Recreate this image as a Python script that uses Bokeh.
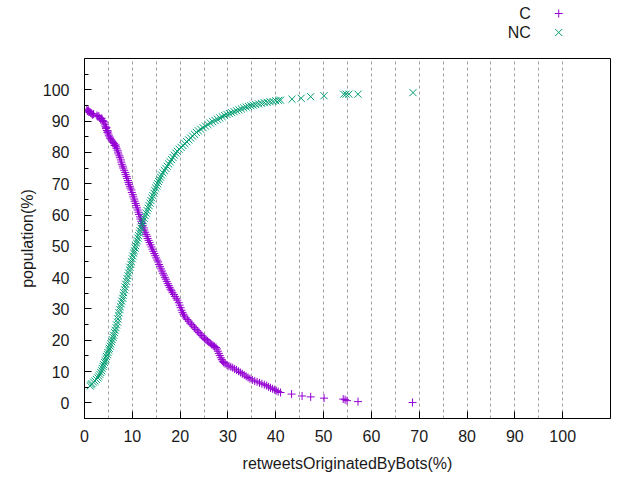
from bokeh.plotting import figure
from bokeh.models import FixedTicker, Range1d
from bokeh.layouts import column
from bokeh.core.properties import value
from bokeh.embed import file_html
from bokeh.resources import INLINE

# ---- data ----
c_x = [0.5, 0.6, 0.8, 0.9, 1.1, 1.3, 1.5, 1.7, 1.9,
       2.6, 2.8, 3.0, 3.2, 3.4, 3.6, 3.8, 4.0, 4.1, 4.3,
       4.4, 4.5, 4.6, 4.7, 4.8, 4.9, 5.0, 5.1, 5.3, 5.4, 5.6, 5.8, 6.0, 6.2, 6.3,
       6.5, 6.6, 6.7, 6.9, 7.0, 7.1, 7.3, 7.4, 7.6, 7.7, 7.8, 8.0, 8.1, 8.3, 8.5,
       8.6, 8.8, 8.9,
       9.1, 9.2, 9.3, 9.5, 9.6, 9.8, 9.9, 10.1, 10.2, 10.4, 10.5, 10.7, 10.8,
       11.0, 11.1,
       11.3, 11.4, 11.6, 11.7, 11.9, 12.0, 12.2, 12.4, 12.5, 12.7, 12.9, 13.1,
       13.2, 13.4, 13.6, 13.8, 14.0, 14.2, 14.4, 14.6, 14.8, 15.0, 15.2,
       15.4, 15.6, 15.8, 16.0, 16.2, 16.4, 16.6, 16.8, 17.0, 17.2, 17.4, 17.6,
       17.8, 18.0, 18.2, 18.4, 18.7, 18.9, 19.2, 19.4, 19.7, 19.9, 20.1,
       20.3, 20.5, 20.7, 20.9, 21.2, 21.5, 21.8, 22.1, 22.4, 22.7, 23.0, 23.3,
       23.6, 23.9, 24.2, 24.5, 24.8,
       25.1, 25.4, 25.7, 26.0, 26.3, 26.6, 26.9, 27.2, 27.5, 27.7, 27.9, 28.1,
       28.3, 28.5, 28.7, 28.9, 29.1, 29.4, 29.8,
       30.2, 30.6, 31.0, 31.4, 31.8, 32.2, 32.6, 33.0, 33.4, 33.8, 34.2, 34.6,
       35.1, 35.6, 36.1, 36.6, 37.1,
       37.6, 38.1, 38.5, 38.9, 39.3, 39.7, 40.1, 40.5, 41.0,
       43.3, 45.5, 47.3, 50.1, 54.1, 54.5, 54.9, 57.2, 68.6]
c_y = [93.8, 93.2, 93.5, 92.9, 93.0, 92.6, 92.4, 92.0, 92.3,
       91.8, 91.4, 91.6, 91.0, 90.6, 90.9, 90.2, 89.9, 89.4, 88.8,
       88.2, 87.6, 87.9, 87.0, 86.4, 86.8, 85.9, 85.3, 84.9, 84.4, 84.0, 83.6,
       83.2, 82.8, 82.2,
       82.4, 81.8, 81.3, 80.7, 80.1, 79.5, 78.9, 78.3, 77.6, 76.9, 76.2, 75.6,
       75.0, 74.3, 73.6, 72.9, 72.3, 71.7,
       71.0, 70.4, 69.8, 69.2, 68.6, 68.0, 67.2, 66.5, 65.8, 65.1, 64.4, 63.7,
       63.0, 62.3, 61.6,
       60.9, 60.2, 59.4, 58.7, 58.0, 57.3, 56.6, 55.9, 55.2, 54.5, 53.8, 53.2,
       52.5, 51.9, 51.2, 50.5, 49.8, 49.1, 48.4, 47.7, 47.0, 46.3, 45.6,
       45.0, 44.2, 43.5, 42.8, 42.1, 41.4, 40.8, 40.1, 39.5, 38.8, 38.1, 37.5,
       36.9, 36.3, 35.8, 35.2, 34.6, 34.0, 33.4, 32.8, 32.0, 31.2, 30.4,
       29.6, 28.9, 28.3, 27.7, 27.1, 26.6, 26.1, 25.5, 25.0, 24.5, 24.0, 23.5,
       23.0, 22.5, 22.0, 21.5, 21.0,
       20.6, 20.2, 19.8, 19.4, 19.0, 18.6, 18.3, 18.0, 17.7, 17.2, 16.5, 15.8,
       15.1, 14.4, 13.8, 13.3, 12.9, 12.5, 12.1,
       11.8, 11.5, 11.2, 10.8, 10.5, 10.1, 9.7, 9.3, 8.9, 8.5, 8.1, 7.7,
       7.3, 7.0, 6.7, 6.4, 6.1,
       5.8, 5.5, 5.1, 4.8, 4.5, 4.2, 3.9, 3.6, 3.3,
       2.8, 2.2, 1.9, 1.5, 1.2, 1.0, 0.7, 0.4, 0.1]

nc_x = [1.2, 1.4, 1.6, 1.9, 2.2, 2.5, 2.8, 3.0, 3.2, 3.4, 3.6, 3.7, 3.9, 4.0,
        4.2, 4.3, 4.5, 4.6, 4.8, 4.9, 5.1, 5.2, 5.4, 5.5, 5.7, 5.8, 6.0, 6.1,
        6.3, 6.4, 6.6, 6.7, 6.9, 7.0, 7.1, 7.2, 7.4, 7.5, 7.7, 7.8, 8.0, 8.1,
        8.2, 8.4, 8.5, 8.6, 8.8, 8.9, 9.1, 9.2, 9.4, 9.5, 9.7, 9.8, 10.0, 10.1,
        10.3, 10.4, 10.6, 10.7, 10.9, 11.0, 11.2, 11.3, 11.5, 11.6, 11.8, 11.9,
        12.1, 12.3, 12.5, 12.7, 12.9, 13.1, 13.3, 13.5, 13.7, 13.9, 14.1, 14.3,
        14.5, 14.7, 14.9, 15.1, 15.3, 15.5, 15.7, 15.9, 16.1, 16.4, 16.7, 17.0,
        17.3, 17.6, 17.9, 18.2, 18.5, 18.8, 19.1, 19.4, 19.8, 20.2, 20.6, 21.0,
        21.4, 21.8, 22.2, 22.6, 23.0, 23.4, 23.8, 24.3, 24.8, 25.3, 25.8, 26.3,
        26.8, 27.3, 27.8, 28.3, 28.8, 29.3, 29.8, 30.3, 30.8, 31.3, 31.8, 32.3,
        32.8, 33.3, 33.8, 34.3, 34.8, 35.3, 35.8, 36.4, 37.0, 37.6, 38.2, 38.8,
        39.4, 40.0, 40.6, 41.0, 43.4, 45.3, 47.3, 50.1, 54.2, 54.7, 55.3, 57.2,
        68.7]
nc_y = [5.4, 5.8, 6.1, 6.6, 7.0, 7.5, 8.0, 8.5, 9.1, 9.7, 10.3, 11.0, 11.6,
        12.2, 12.9, 13.5, 14.1, 14.8, 15.4, 16.1, 16.8, 17.4, 18.1, 18.8, 19.5,
        20.2, 20.9, 21.6, 22.4, 23.2, 24.0, 24.9, 25.8, 26.8, 27.8, 28.8, 29.8,
        30.7, 31.6, 32.5, 33.4, 34.3, 35.2, 36.1, 37.0, 37.9, 38.8, 39.7, 40.6,
        41.5, 42.4, 43.3, 44.2, 45.1, 46.0, 46.9, 47.8, 48.6, 49.4, 50.2, 51.0,
        51.8, 52.6, 53.4, 54.2, 55.0, 55.8, 56.6, 57.4, 58.2, 59.0, 59.8, 60.6,
        61.4, 62.2, 63.0, 63.8, 64.6, 65.4, 66.2, 67.0, 67.8, 68.6, 69.3, 70.0,
        70.7, 71.4, 72.1, 72.8, 73.5, 74.2, 74.9, 75.6, 76.3, 77.0, 77.7, 78.4,
        79.1, 79.8, 80.4, 81.0, 81.6, 82.2, 82.8, 83.4, 84.0, 84.6, 85.2, 85.8,
        86.4, 86.9, 87.4, 87.9, 88.4, 88.9, 89.4, 89.8, 90.2, 90.6, 91.0, 91.4,
        91.8, 92.1, 92.4, 92.7, 93.0, 93.3, 93.6, 93.9, 94.2, 94.5, 94.7, 94.9,
        95.1, 95.3, 95.5, 95.7, 95.9, 96.0, 96.2, 96.3, 96.5, 96.6, 96.7, 97.0,
        97.3, 97.8, 98.1, 98.6, 98.6, 98.6, 98.6, 99.1]

series_names = ["C", "NC"]
x_ticks = [0, 10, 20, 30, 40, 50, 60, 70, 80, 90, 100]
y_ticks = [0, 10, 20, 30, 40, 50, 60, 70, 80, 90, 100]
y_minor = [5, 15, 25, 35, 45, 55, 65, 75, 85, 95, 105]
x_grid = [5, 10, 15, 20, 25, 30, 35, 40, 45, 50, 55, 60, 65, 70, 75, 80, 85,
          90, 95, 100]

FONT = "Liberation Sans"
TEXT_COLOR = "#1a1a1a"
C_COLOR = "#9400d3"
NC_COLOR = "#009e73"
PLUS_SIZE = 8
X_SIZE = 10

# ---- key strip above the plot (gnuplot style: text left, symbol right) ----
key = figure(width=640, height=58, output_backend="svg", toolbar_location=None,
             x_range=Range1d(0, 640), y_range=Range1d(58, 0),
             min_border=0, x_axis_type=None, y_axis_type=None)
key.outline_line_color = None
key.grid.visible = False
key.text(x=[543, 543], y=[13, 32], text=series_names, text_align="right",
         text_baseline="middle", text_font=value(FONT),
         text_font_size=value("16px"), text_color=TEXT_COLOR)
key.scatter(x=[577], y=[13], marker="cross", size=PLUS_SIZE,
            line_color=C_COLOR, line_width=1)
key.scatter(x=[577], y=[32], marker="x", size=X_SIZE, line_color=NC_COLOR,
            line_width=1)

# ---- main plot ----
p = figure(width=640, height=422, output_backend="svg", toolbar_location=None,
           x_range=Range1d(0, 110), y_range=Range1d(-5, 110),
           min_border_left=84, min_border_right=30, min_border_top=0,
           min_border_bottom=62)
p.background_fill_color = "white"
p.border_fill_color = "white"
p.outline_line_color = "black"
p.outline_line_width = 1

p.scatter(c_x, c_y, marker="cross", size=PLUS_SIZE, line_color=C_COLOR,
          line_width=1)
p.scatter(nc_x, nc_y, marker="x", size=X_SIZE, line_color=NC_COLOR,
          line_width=1)

for ax in (p.xaxis[0], p.yaxis[0]):
    ax.axis_line_color = "black"
    ax.major_tick_line_color = "black"
    ax.minor_tick_line_color = "black"
    ax.major_tick_in = 7
    ax.major_tick_out = 0
    ax.minor_tick_in = 4
    ax.minor_tick_out = 0
    ax.major_label_text_font = FONT
    ax.major_label_text_font_size = "16px"
    ax.major_label_text_color = TEXT_COLOR
    ax.axis_label_text_font = FONT
    ax.axis_label_text_font_size = "16px"
    ax.axis_label_text_font_style = "normal"
    ax.axis_label_text_color = TEXT_COLOR

p.xaxis.ticker = FixedTicker(ticks=x_ticks, minor_ticks=[])
p.yaxis.ticker = FixedTicker(ticks=y_ticks, minor_ticks=y_minor)
p.xaxis.axis_label = "retweetsOriginatedByBots(%)"
p.yaxis.axis_label = "population(%)"
p.xaxis.major_label_standoff = 11
p.xaxis.axis_label_standoff = 10
p.yaxis.major_label_standoff = 15
p.yaxis.axis_label_standoff = 4

p.ygrid.grid_line_color = None
p.xgrid.ticker = FixedTicker(ticks=x_grid)
p.xgrid.grid_line_color = "#a0a0a0"
p.xgrid.grid_line_dash = "3 3"
p.xgrid.grid_line_width = 1

layout = column(key, p, spacing=0)
open("out.html", "w").write(file_html(layout, INLINE))
